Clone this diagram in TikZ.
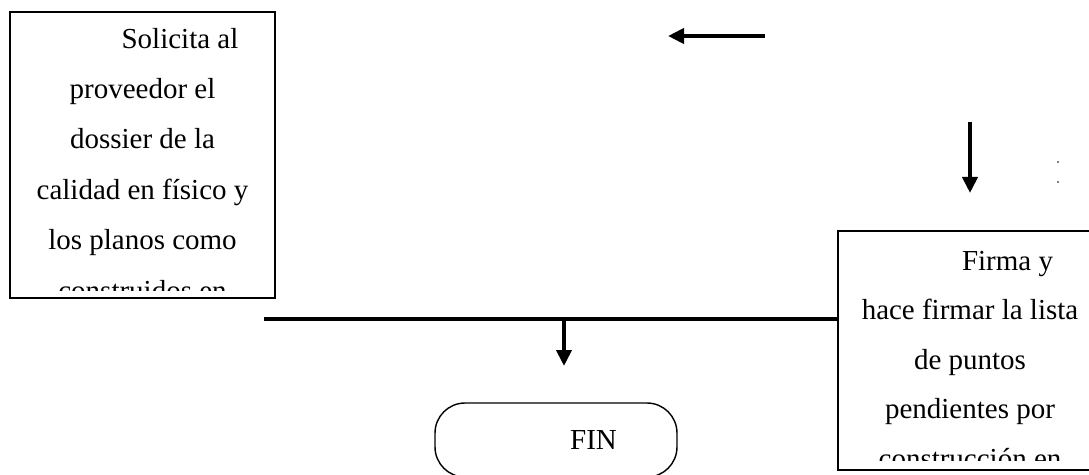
\documentclass[tikz,border=0pt]{standalone}
\usepackage{fontspec}
\setmainfont{Liberation Serif}
\usetikzlibrary{arrows.meta,positioning}

\tikzset{
  procbox/.style={draw, line width=1.1pt, inner sep=0pt},
  boxtext/.style={inner sep=0pt, anchor=base},
  flowarrow/.style={line width=2.2pt, -{Triangle[length=0.32cm,width=0.3cm]}},
  busline/.style={line width=2.2pt},
  terminal/.style={draw, line width=0.8pt, rounded corners=0.6cm,
    minimum width=4.84cm, minimum height=1.48cm, inner sep=0pt}
}
\newcommand{\boxfont}{\fontsize{16.5}{28.7}\selectfont}

\begin{document}
\begin{tikzpicture}[x=0.02cm, y=-0.02cm]
  \clip (0,0) rectangle (1089,474);

  % request box (text runs past the bottom edge)
  \node[procbox, minimum width=5.3cm, minimum height=5.72cm] (solicita) at (142.5,155) {};
  \begin{scope}
    \clip (11,13) rectangle (274,290);
    \node[boxtext] (solicitatxt) at (142.5,48) {\parbox[t]{5.2cm}{\boxfont\centering
      \hspace*{1.5cm}Solicita al\\
      proveedor el\\
      dossier de la\\
      calidad en físico y\\
      los planos como\\
      construidos en}};
  \end{scope}

  % sign-off box
  \node[procbox, minimum width=5.28cm, minimum height=4.78cm] (firma) at (970,350.5) {};
  \begin{scope}
    \clip (839,232) rectangle (1089,460);
    \node[boxtext] (firmatxt) at (970,270) {\parbox[t]{5.2cm}{\fontsize{16.5}{28.2}\selectfont\centering
      \hspace*{1.5cm}Firma y\\
      hace firmar la lista\\
      de puntos\\
      pendientes por\\
      construcción en}};
  \end{scope}

  % end terminal
  \node[terminal] (fin) at (556,440) {\boxfont\hspace*{1.5cm}FIN};

  % loose arrows
  \coordinate (backfrom) at (765,36);
  \coordinate[left=1.94cm of backfrom] (backto);
  \draw[flowarrow] (backfrom) -- (backto);

  \coordinate (downfrom) at (970,122);
  \coordinate[below=1.42cm of downfrom] (downto);
  \draw[flowarrow] (downfrom) -- (downto);

  % join line into FIN
  \coordinate (busstart) at (264,319);
  \coordinate (junction) at (564,319);
  \coordinate[below=0.94cm of junction] (finin);
  \draw[busline] (busstart) -- (junction) -- (junction -| firma.west);
  \draw[flowarrow] (junction) -- (finin);

  % stray marks
  \fill[gray] (1057,161) rectangle (1059,163);
  \fill[gray] (1057,181) rectangle (1059,183);
\end{tikzpicture}
\end{document}
